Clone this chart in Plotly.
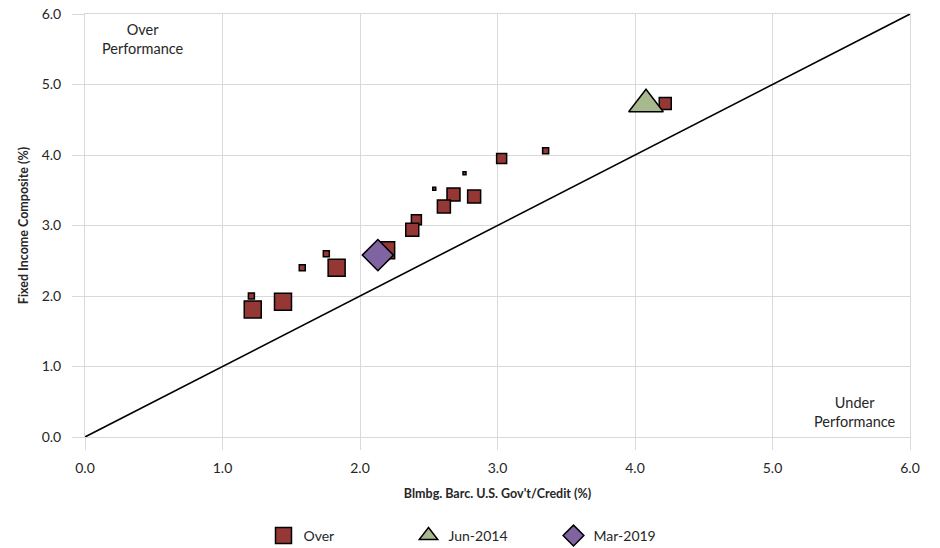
import plotly.graph_objects as go

# ---- data ----
over_x = [1.21, 1.22, 1.44, 1.58, 1.755, 1.83, 2.19, 2.41, 2.38, 2.68, 2.61, 2.83, 2.54, 2.76, 3.03, 3.35, 4.22]
over_y = [2.00, 1.81, 1.92, 2.40, 2.60, 2.40, 2.65, 3.08, 2.94, 3.44, 3.27, 3.41, 3.52, 3.74, 3.95, 4.06, 4.73]
over_marker_size = [6, 17, 17, 6, 6, 17, 17, 10, 13, 13, 13, 13, 3, 3, 10, 6, 12]

jun2014_x = [4.08]
jun2014_y = [4.72]

mar2019_x = [2.13]
mar2019_y = [2.58]

diag_x = [0.0, 6.0]
diag_y = [0.0, 6.0]

x_ticks = [0, 1, 2, 3, 4, 5, 6]
x_tick_labels = ["0.0", "1.0", "2.0", "3.0", "4.0", "5.0", "6.0"]
y_ticks = [0, 1, 2, 3, 4, 5, 6]
y_tick_labels = ["0.0", "1.0", "2.0", "3.0", "4.0", "5.0", "6.0"]

FONT = "Lato"
TXT = "#262626"
GRID = "#d9d9d9"
RED = "#953735"
GREEN = "#A7B98D"
PURPLE = "#8064A2"

fig = go.Figure()

fig.add_trace(go.Scatter(
    x=diag_x, y=diag_y, mode="lines",
    line=dict(color="#000000", width=1.6),
    showlegend=False, hoverinfo="skip"))

fig.add_trace(go.Scatter(
    x=over_x, y=over_y, mode="markers", name="Over", showlegend=False,
    marker=dict(symbol="square", size=over_marker_size, color=RED, opacity=1,
                line=dict(color="#000000", width=1.5))))
# legend entry for the "Over" series (no data of its own)
fig.add_trace(go.Scatter(
    x=[None], y=[None], mode="markers", name="Over",
    marker=dict(symbol="square", size=20, color=RED, opacity=1,
                line=dict(color="#000000", width=1.5))))

fig.add_trace(go.Scatter(
    x=jun2014_x, y=jun2014_y, mode="markers", name="Jun-2014",
    marker=dict(symbol="triangle-up", size=30, color=GREEN, opacity=1,
                line=dict(color="#000000", width=1.5))))

fig.add_trace(go.Scatter(
    x=mar2019_x, y=mar2019_y, mode="markers", name="Mar-2019",
    marker=dict(symbol="diamond", size=24, color=PURPLE, opacity=1,
                line=dict(color="#000000", width=1.5))))

fig.add_annotation(x=0.42, y=5.65, xref="x", yref="y", text="Over<br>Performance",
                   showarrow=False, font=dict(family=FONT, size=14.5, color=TXT), align="center")
fig.add_annotation(x=5.6, y=0.36, xref="x", yref="y", text="Under<br>Performance",
                   showarrow=False, font=dict(family=FONT, size=14.5, color=TXT), align="center")

fig.update_layout(
    width=940, height=548,
    margin=dict(l=85, r=30, t=14, b=111, autoexpand=False),
    paper_bgcolor="white", plot_bgcolor="white",
    font=dict(family=FONT, size=14, color=TXT),
    legend=dict(orientation="h", x=0.48, xanchor="center", y=-0.234, yanchor="middle",
                font=dict(family=FONT, size=14, color=TXT),
                entrywidth=100, itemsizing="trace"),
    xaxis=dict(range=[0, 6], tickvals=x_ticks, ticktext=x_tick_labels,
               showgrid=True, gridcolor=GRID, gridwidth=1,
               showline=True, linecolor=GRID, linewidth=1, mirror=True,
               ticks="outside", ticklen=12, tickcolor=GRID, ticklabelstandoff=6,
               ticklabeloverflow="allow",
               zeroline=False, automargin=False,
               title=dict(text="<b>Blmbg. Barc. U.S. Gov't/Credit (%)</b>",
                          font=dict(family=FONT, size=12.5, color=TXT), standoff=14)),
    yaxis=dict(range=[0, 6], tickvals=y_ticks, ticktext=y_tick_labels,
               showgrid=True, gridcolor=GRID, gridwidth=1,
               showline=True, linecolor=GRID, linewidth=1, mirror=True,
               ticks="outside", ticklen=12, tickcolor=GRID, ticklabelstandoff=8,
               ticklabeloverflow="allow",
               zeroline=False, automargin=False,
               title=dict(text="<b>Fixed Income Composite (%)</b>",
                          font=dict(family=FONT, size=12.5, color=TXT), standoff=10)),
)

fig.write_html("out.html",
               config={"displayModeBar": False},
               post_script="document.body.style.margin='0';document.body.style.overflow='hidden';")
